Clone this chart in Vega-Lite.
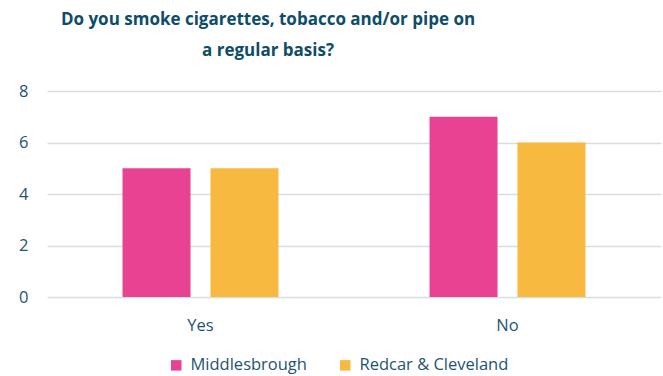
{
  "$schema": "https://vega.github.io/schema/vega-lite/v6.json",
  "width": 614,
  "height": 206,
  "autosize": "none",
  "padding": {"left": 47, "top": 91, "right": 2, "bottom": 79},
  "background": "white",
  "title": {
    "text": ["Do you smoke cigarettes, tobacco and/or pipe on", "a regular basis?"],
    "font": "Open Sans",
    "fontSize": 17,
    "fontWeight": "bold",
    "color": "#0D4D68",
    "anchor": "middle",
    "dx": -86,
    "lineHeight": 31,
    "offset": 23
  },
  "data": {
    "values": [
      {"answer": "Yes", "area": "Middlesbrough", "count": 5},
      {"answer": "Yes", "area": "Redcar & Cleveland", "count": 5},
      {"answer": "No", "area": "Middlesbrough", "count": 7},
      {"answer": "No", "area": "Redcar & Cleveland", "count": 6}
    ]
  },
  "mark": {"type": "bar"},
  "encoding": {
    "x": {
      "field": "answer",
      "type": "nominal",
      "sort": ["Yes", "No"],
      "scale": {"paddingInner": 0.492, "paddingOuter": 0.246},
      "axis": {
        "title": null,
        "labelAngle": 0,
        "labelFont": "Open Sans",
        "labelFontSize": 16.5,
        "labelColor": "#1E5470",
        "labelPadding": 20,
        "domain": false,
        "ticks": false
      }
    },
    "xOffset": {
      "field": "area",
      "type": "nominal",
      "scale": {"paddingInner": 0.227, "paddingOuter": 0}
    },
    "y": {
      "field": "count",
      "type": "quantitative",
      "scale": {"domain": [0, 8]},
      "axis": {
        "title": null,
        "values": [0, 2, 4, 6, 8],
        "labelFont": "Open Sans",
        "labelFontSize": 16.5,
        "labelColor": "#1E5470",
        "labelPadding": 19,
        "domain": false,
        "ticks": false,
        "gridColor": "#D5DEE2",
        "gridWidth": 1.5
      }
    },
    "color": {
      "field": "area",
      "type": "nominal",
      "scale": {"domain": ["Middlesbrough", "Redcar & Cleveland"], "range": ["#E84393", "#F7B940"]},
      "legend": {
        "orient": "none",
        "legendX": 121,
        "legendY": 266,
        "direction": "horizontal",
        "title": null,
        "symbolType": "square",
        "symbolSize": 110,
        "symbolStrokeWidth": 0,
        "labelFont": "Open Sans",
        "labelFontSize": 16.5,
        "labelColor": "#1E5470",
        "labelOffset": 6,
        "columnPadding": 30
      }
    }
  },
  "config": {"view": {"stroke": null}}
}
